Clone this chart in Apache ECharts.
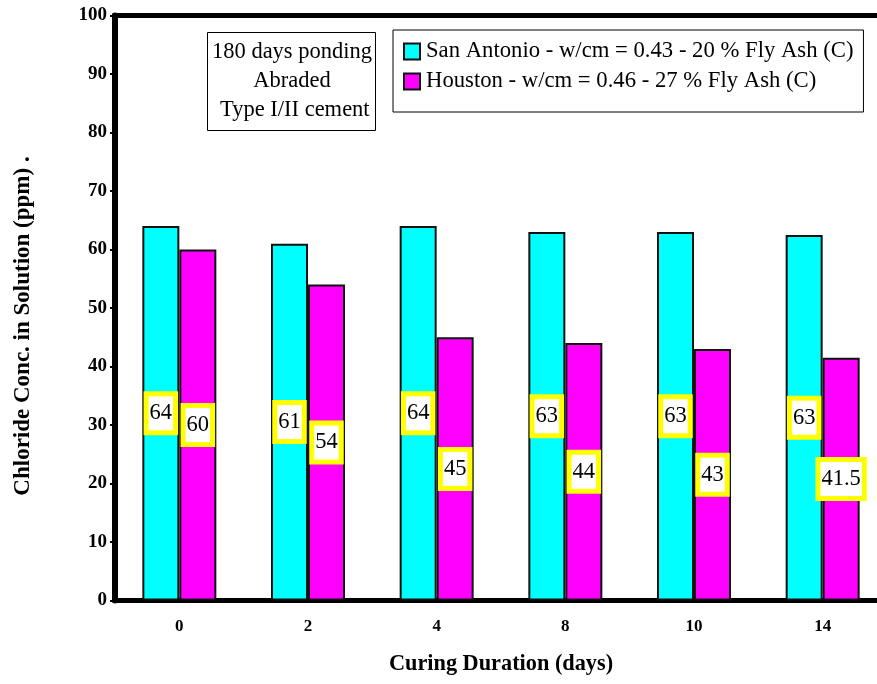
<!DOCTYPE html>
<html>
<head>
<meta charset="utf-8">
<script src="https://cdn.jsdelivr.net/npm/echarts@6/dist/echarts.min.js"></script>
<style>html,body{margin:0;padding:0;background:#fff;overflow:hidden;width:877px;height:684px;}#c{width:887px;height:684px;}</style>
</head>
<body>
<div id="c"></div>
<script>
const categories = ['0', '2', '4', '8', '10', '14'];
const sanAntonio = [64, 61, 64, 63, 63, 62.5];
const houston = [60, 54, 45, 44, 43, 41.5];
const sanAntonioLabels = ['64', '61', '64', '63', '63', '63'];
const houstonLabels = ['60', '54', '45', '44', '43', '41.5'];
const yTicks = [0, 10, 20, 30, 40, 50, 60, 70, 80, 90, 100];
const seriesNames = ['San Antonio - w/cm = 0.43 - 20 % Fly Ash (C)', 'Houston - w/cm = 0.46 - 27 % Fly Ash (C)'];
const noteLines = ['180 days ponding', 'Abraded', ' Type I/II cement'];

const SERIF = '"Liberation Serif", "Times New Roman", serif';
const chart = echarts.init(document.getElementById('c'), null, {renderer: 'canvas'});

const labelStyle = (labels) => ({
  show: true,
  position: 'inside',
  formatter: p => labels[p.dataIndex],
  fontFamily: SERIF,
  fontSize: 22.5,
  lineHeight: 24,
  color: '#000',
  backgroundColor: '#fff',
  borderColor: '#FFFF00',
  borderWidth: 5,
  padding: [5, 1]
});

chart.setOption({
  animation: false,
  grid: {
    left: 115, right: 0, top: 15.5, bottom: 83.5,
    show: true, borderColor: '#000', borderWidth: 5, backgroundColor: 'transparent'
  },
  legend: {
    orient: 'vertical',
    left: 393, top: 30,
    padding: [10, 10, 19, 10],
    borderColor: '#000', borderWidth: 1,
    itemWidth: 16, itemHeight: 16, itemGap: 7,
    icon: 'rect',
    textStyle: {fontFamily: SERIF, fontSize: 22.7, color: '#000', padding: [0, 0, 0, 1]},
    data: seriesNames
  },
  xAxis: {
    type: 'category',
    data: categories,
    axisLine: {lineStyle: {color: '#000', width: 5}},
    axisTick: {show: false},
    axisLabel: {fontFamily: SERIF, fontWeight: 'bold', fontSize: 17, color: '#000', margin: 18}
  },
  yAxis: {
    type: 'value',
    min: yTicks[0], max: yTicks[yTicks.length - 1], interval: 10,
    splitLine: {show: false},
    axisLine: {show: true, lineStyle: {color: '#000', width: 6}},
    axisTick: {show: true, length: 5, lineStyle: {color: '#000', width: 2}},
    axisLabel: {fontFamily: SERIF, fontWeight: 'bold', fontSize: 19, color: '#000', margin: 8}
  },
  series: [
    {
      name: seriesNames[0], type: 'bar', data: sanAntonio,
      barWidth: 37, barGap: '0%',
      itemStyle: {color: '#00FFFF', borderColor: '#111', borderWidth: 2},
      label: labelStyle(sanAntonioLabels)
    },
    {
      name: seriesNames[1], type: 'bar', data: houston,
      barWidth: 37, barGap: '0%',
      itemStyle: {color: '#FF00FF', borderColor: '#111', borderWidth: 2},
      label: labelStyle(houstonLabels)
    }
  ],
  graphic: [
    {
      type: 'rect', left: 207, top: 32, z: 10,
      shape: {width: 168, height: 98},
      style: {fill: '#fff', stroke: '#000', lineWidth: 1}
    },
    {
      type: 'text', x: 292, y: 81, z: 11,
      style: {
        text: noteLines.join('\n'), fontFamily: SERIF, fontSize: 22.5, lineHeight: 29,
        fill: '#000', align: 'center', verticalAlign: 'middle'
      }
    },
    {
      type: 'text', x: 23, y: 326, rotation: Math.PI / 2, z: 11,
      style: {
        text: 'Chloride Conc. in Solution (ppm) .', fontFamily: SERIF, fontSize: 23, fontWeight: 'bold',
        fill: '#000', align: 'center', verticalAlign: 'middle'
      }
    },
    {
      type: 'text', x: 501, y: 664, z: 11,
      style: {
        text: 'Curing Duration (days)', fontFamily: SERIF, fontSize: 22.3, fontWeight: 'bold',
        fill: '#000', align: 'center', verticalAlign: 'middle'
      }
    }
  ]
});
</script>
</body>
</html>
